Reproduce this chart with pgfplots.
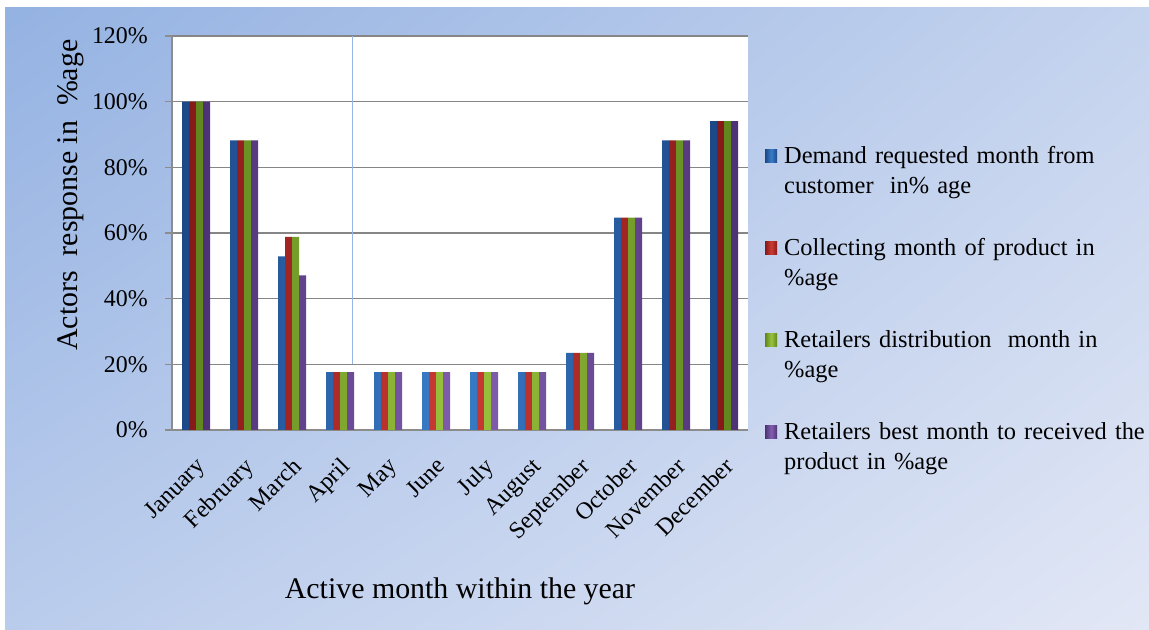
\documentclass[border=0pt]{standalone}
\usepackage{pgfplots}
\usepackage{pgfplotstable}
\pgfplotsset{compat=1.18}
\usetikzlibrary{shadings}
\usepackage{fontspec}
\setmainfont{Liberation Serif}

\definecolor{bgA}{RGB}{148,178,226}
\definecolor{bgB}{RGB}{196,211,238}
\definecolor{bgC}{RGB}{186,204,236}
\definecolor{bgD}{RGB}{226,231,245}
\definecolor{gridgray}{RGB}{134,134,134}
\definecolor{axgray}{RGB}{140,140,140}
\definecolor{artline}{RGB}{150,180,230}

\definecolor{bluD}{RGB}{28,72,135}
\definecolor{bluM}{RGB}{58,125,200}
\definecolor{redD}{RGB}{135,25,25}
\definecolor{redM}{RGB}{205,58,52}
\definecolor{grnD}{RGB}{95,135,30}
\definecolor{grnM}{RGB}{155,195,62}
\definecolor{purD}{RGB}{78,50,118}
\definecolor{purM}{RGB}{130,95,175}

\pgfplotstableread{
x demand collect distrib best
0  100.0 100.0 100.0 100.0
1  88.2  88.2  88.2  88.2
2  52.9  58.8  58.8  47.1
3  17.6  17.6  17.6  17.6
4  17.6  17.6  17.6  17.6
5  17.6  17.6  17.6  17.6
6  17.6  17.6  17.6  17.6
7  17.6  17.6  17.6  17.6
8  23.5  23.5  23.5  23.5
9  64.7  64.7  64.7  64.7
10 88.2  88.2  88.2  88.2
11 94.1  94.1  94.1  94.1
}\data

\pgfplotsset{
  sqlegend/.style={legend image code/.code={\draw[##1,draw=none] (0bp,-7bp) rectangle (12bp,6bp);}},
}

\begin{document}
\begin{tikzpicture}
\fill[white] (0,0) rectangle (1149bp,630bp);
\shade[upper left=bgA, upper right=bgB, lower left=bgC, lower right=bgD] (5bp,0bp) rectangle (1149bp,622bp);
\begin{axis}[
  scale only axis,
  width=576bp, height=394bp,
  at={(172bp,200bp)}, anchor=south west,
  axis background/.style={fill=white},
  xmin=-0.5, xmax=11.5, ymin=0, ymax=120,
  ybar=0pt, bar width=7bp,
  axis x line*=bottom, axis y line*=left,
  x axis line style={-, draw=axgray, line width=2.5bp},
  y axis line style={-, draw=axgray, line width=2bp},
  ytick={0,20,...,120},
  yticklabel={\pgfmathprintnumber[assume math mode=true]{\tick}\%},
  yticklabel style={font=\fontsize{24}{28}\selectfont, anchor=east, inner sep=0pt, xshift=-17bp},
  ymajorgrids, grid style={draw=gridgray, line width=1.6bp},
  ytick style={draw=axgray, line width=1.5bp},
  tick align=outside, major tick length=7bp,
  xtick={0,...,11},
  xticklabels={January,February,March,April,May,June,July,August,September,October,November,December},
  xtick style={draw=none},
  xticklabel style={font=\fontsize{24}{28}\selectfont, inner sep=0pt, yshift=-19bp, xshift=-1bp, rotate=45, anchor=north east},
  ylabel={Actors\ \ response in\ \ \%age},
  ylabel style={font=\fontsize{30}{34}\selectfont, at={(axis description cs:-0.1754,0.596)}, anchor=center, rotate=0},
  xlabel={Active month within the year},
  xlabel style={font=\fontsize{30}{34}\selectfont, at={(axis description cs:0.5,-0.4264)}, anchor=base},
  legend style={at={(axis description cs:1.0295,0.7209)}, anchor=north west, draw=none, fill=none,
     font=\fontsize{24.5}{30}\selectfont, inner sep=0pt, row sep=73.5bp, column sep=7bp,
     nodes={inner sep=0pt, text width=380bp, align=left}},
  legend cell align=left,
]
\addplot[sqlegend, draw=none, left color=bluD, right color=bluD, middle color=bluM] table[x=x, y=demand] {\data};
\addlegendentry{Demand requested month from\\customer\ \ in\% age}
\addplot[sqlegend, draw=none, left color=redD, right color=redD, middle color=redM] table[x=x, y=collect] {\data};
\addlegendentry{Collecting month of product in\\\%age}
\addplot[sqlegend, draw=none, left color=grnD, right color=grnD, middle color=grnM] table[x=x, y=distrib] {\data};
\addlegendentry{Retailers distribution\ \ month in\\\%age}
\addplot[sqlegend, draw=none, left color=purD, right color=purD, middle color=purM] table[x=x, y=best] {\data};
\addlegendentry{Retailers best month to received the\\product in \%age}
\draw[artline, line width=0.8bp] (axis cs:3.256,20) -- (axis cs:3.256,120);
\end{axis}
\pgfresetboundingbox
\path[use as bounding box] (0,0) rectangle (1149bp,630bp);
\end{tikzpicture}
\end{document}
